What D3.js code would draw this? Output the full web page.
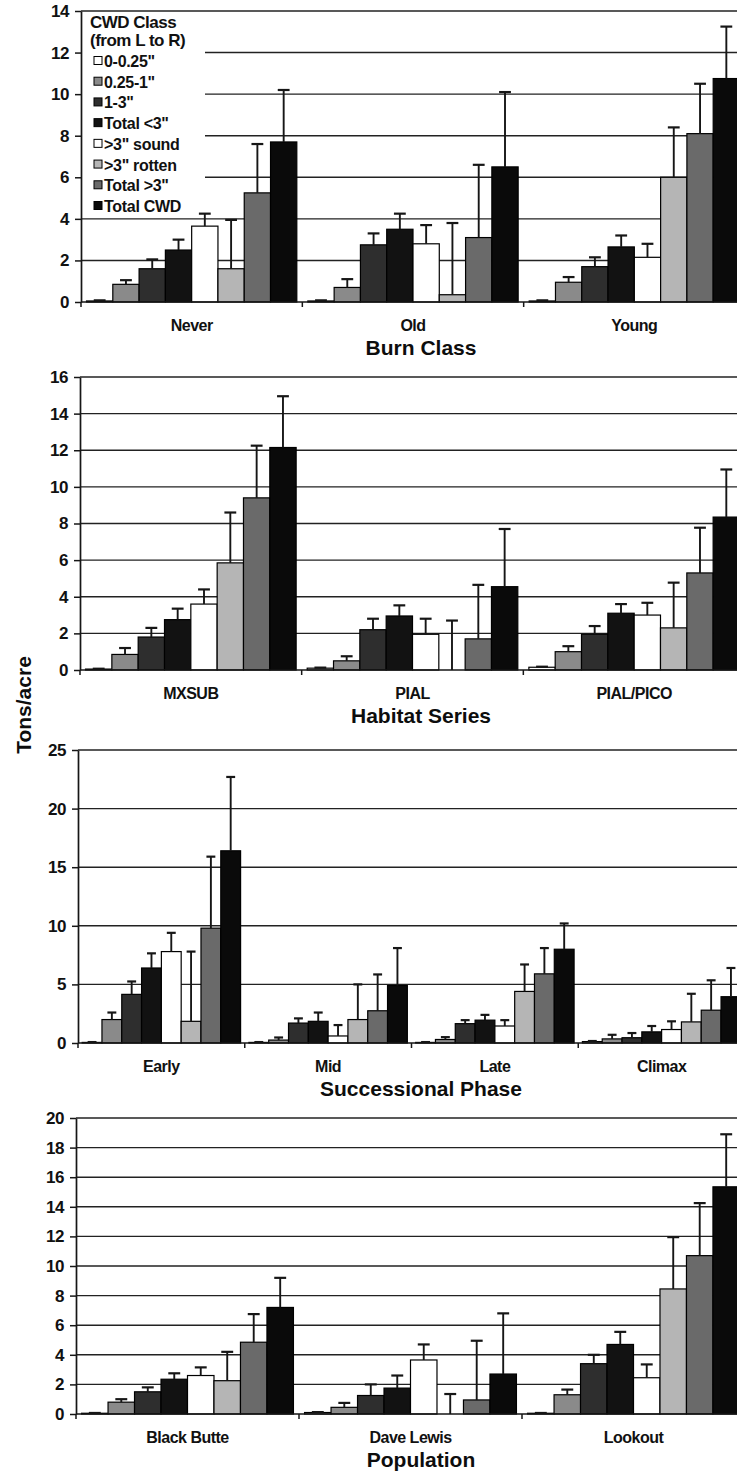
<!DOCTYPE html>
<html><head><meta charset="utf-8">
<script src="https://cdn.jsdelivr.net/npm/d3@7"></script>
<style>
body{margin:0;background:#fff}
svg{display:block;font-family:Arial,"Liberation Sans",sans-serif}
</style>
</head><body>
<svg id="c" width="737" height="1474"></svg>
<script>
// CWD size classes (legend order, left to right in each group)
const classes = ["0-0.25\"", "0.25-1\"", "1-3\"", "Total <3\"", ">3\" sound", ">3\" rotten", "Total >3\"", "Total CWD"];
const classColors = ["#ffffff", "#8a8a8a", "#2e2e2e", "#121212", "#ffffff", "#b5b5b5", "#6a6a6a", "#0a0a0a"];

// Burn Class
const burnCats = ["Never", "Old", "Young"];
const burnMean = [
  [0.05, 0.85, 1.6, 2.5, 3.65, 1.6, 5.25, 7.7],
  [0.05, 0.7, 2.75, 3.5, 2.8, 0.35, 3.1, 6.5],
  [0.05, 0.95, 1.7, 2.65, 2.15, 6.0, 8.1, 10.75]
];
const burnErr = [
  [0.03, 0.2, 0.45, 0.5, 0.6, 2.35, 2.35, 2.5],
  [0.03, 0.4, 0.55, 0.75, 0.9, 3.45, 3.5, 3.6],
  [0.03, 0.25, 0.45, 0.55, 0.65, 2.4, 2.4, 2.5]
];
const burnTicks = [0, 2, 4, 6, 8, 10, 12, 14];

// Habitat Series
const habCats = ["MXSUB", "PIAL", "PIAL/PICO"];
const habMean = [
  [0.05, 0.85, 1.8, 2.75, 3.6, 5.85, 9.4, 12.15],
  [0.1, 0.5, 2.2, 2.95, 1.95, 0, 1.7, 4.55],
  [0.15, 1.0, 1.95, 3.1, 3.0, 2.3, 5.3, 8.35]
];
const habErr = [
  [0.02, 0.35, 0.5, 0.6, 0.8, 2.75, 2.85, 2.8],
  [0.03, 0.25, 0.6, 0.58, 0.85, 2.7, 2.95, 3.15],
  [0.03, 0.3, 0.45, 0.5, 0.67, 2.47, 2.47, 2.6]
];
const habTicks = [0, 2, 4, 6, 8, 10, 12, 14, 16];

// Successional Phase
const sucCats = ["Early", "Mid", "Late", "Climax"];
const sucMean = [
  [0.05, 2.0, 4.15, 6.4, 7.8, 1.85, 9.8, 16.4],
  [0.05, 0.25, 1.7, 1.85, 0.6, 2.0, 2.75, 4.9],
  [0.05, 0.3, 1.65, 1.95, 1.45, 4.4, 5.9, 8.0],
  [0.12, 0.35, 0.45, 0.95, 1.15, 1.8, 2.8, 3.95]
];
const sucErr = [
  [0.03, 0.6, 1.1, 1.25, 1.6, 5.95, 6.1, 6.3],
  [0.03, 0.22, 0.4, 0.75, 0.93, 3.0, 3.1, 3.2],
  [0.03, 0.2, 0.3, 0.45, 0.5, 2.3, 2.2, 2.2],
  [0.05, 0.35, 0.4, 0.5, 0.7, 2.4, 2.55, 2.45]
];
const sucTicks = [0, 5, 10, 15, 20, 25];

// Population
const popCats = ["Black Butte", "Dave Lewis", "Lookout"];
const popMean = [
  [0.05, 0.8, 1.5, 2.35, 2.6, 2.25, 4.85, 7.2],
  [0.1, 0.45, 1.25, 1.75, 3.65, 0, 0.95, 2.7],
  [0.05, 1.3, 3.4, 4.7, 2.45, 8.45, 10.7, 15.35]
];
const popErr = [
  [0.02, 0.2, 0.3, 0.4, 0.55, 1.95, 1.9, 2.0],
  [0.03, 0.3, 0.75, 0.85, 1.05, 1.35, 4.0, 4.1],
  [0.02, 0.35, 0.6, 0.85, 0.9, 3.5, 3.55, 3.55]
];
const popTicks = [0, 2, 4, 6, 8, 10, 12, 14, 16, 18, 20];

const panels = [
  {cats: burnCats, mean: burnMean, err: burnErr, ticks: burnTicks, title: "Burn Class", left: 81, top: 11, bottom: 302, legend: true},
  {cats: habCats, mean: habMean, err: habErr, ticks: habTicks, title: "Habitat Series", left: 80, top: 377, bottom: 670},
  {cats: sucCats, mean: sucMean, err: sucErr, ticks: sucTicks, title: "Successional Phase", left: 78, top: 750, bottom: 1043},
  {cats: popCats, mean: popMean, err: popErr, ticks: popTicks, title: "Population", left: 76, top: 1118, bottom: 1414}
];

const svg = d3.select("#c");
const RIGHT = 745;
const INK = "#161616";

panels.forEach(p => {
  const g = svg.append("g");
  const x0 = d3.scaleBand().domain(p.cats).range([p.left, RIGHT]).paddingInner(0).paddingOuter(0);
  const x1 = d3.scaleBand().domain(d3.range(classes.length)).range([0, x0.bandwidth()]).paddingInner(0).paddingOuter(0.21);
  const maxV = d3.max(p.ticks);
  const y = d3.scaleLinear().domain([0, maxV]).range([p.bottom, p.top]);

  // gridlines
  g.selectAll("line.grid").data(p.ticks.filter(t => t > 0)).join("line")
    .attr("x1", p.left).attr("x2", RIGHT)
    .attr("y1", d => y(d)).attr("y2", d => y(d))
    .attr("stroke", "#222").attr("stroke-width", 1.4);

  // legend background (covers gridlines)
  if (p.legend) {
    g.append("rect").attr("x", p.left + 1).attr("y", y(maxV) + 2)
      .attr("width", 123).attr("height", 201).attr("fill", "#fff");
  }

  // bars
  p.cats.forEach((c, ci) => {
    const bars = g.append("g");
    classes.forEach((cl, k) => {
      const v = p.mean[ci][k];
      const e = p.err[ci][k];
      const bx = x0(c) + x1(k);
      const bw = x1.bandwidth();
      bars.append("rect")
        .attr("x", bx).attr("y", y(v))
        .attr("width", bw).attr("height", Math.max(0, y(0) - y(v)))
        .attr("fill", classColors[k]).attr("stroke", "#000").attr("stroke-width", 1.2);
      const cx = bx + bw / 2;
      const cw = bw * 0.45;
      bars.append("line").attr("x1", cx).attr("x2", cx).attr("y1", y(v)).attr("y2", y(v + e))
        .attr("stroke", INK).attr("stroke-width", 1.9);
      bars.append("line").attr("x1", cx - cw / 2).attr("x2", cx + cw / 2).attr("y1", y(v + e)).attr("y2", y(v + e))
        .attr("stroke", INK).attr("stroke-width", 2.2);
    });
  });

  // x axis line and group tick marks
  g.append("line").attr("x1", p.left).attr("x2", RIGHT).attr("y1", y(0)).attr("y2", y(0))
    .attr("stroke", INK).attr("stroke-width", 1.7);
  g.selectAll("line.xt").data(p.cats).join("line")
    .attr("x1", d => x0(d)).attr("x2", d => x0(d))
    .attr("y1", y(0)).attr("y2", y(0) + 5)
    .attr("stroke", INK).attr("stroke-width", 1.5);

  // y axis
  const ax = g.append("g").attr("transform", `translate(${p.left},0)`)
    .call(d3.axisLeft(y).tickValues(p.ticks).tickSize(6).tickSizeOuter(0).tickPadding(6).tickFormat(d3.format("d")));
  ax.select(".domain").attr("stroke", INK).attr("stroke-width", 1.7);
  ax.selectAll(".tick line").attr("stroke", INK).attr("stroke-width", 1.5);
  ax.selectAll(".tick text").attr("fill", "#111").style("font-size", "17px").style("font-weight", "bold")
    .style("letter-spacing", "-0.5px").style("font-family", "Arial, 'Liberation Sans', sans-serif");

  // category labels
  g.selectAll("text.cat").data(p.cats).join("text")
    .attr("x", d => x0(d) + x0.bandwidth() / 2).attr("y", y(0) + 29)
    .attr("text-anchor", "middle").attr("fill", "#111")
    .style("font-size", "16px").style("font-weight", "bold").style("letter-spacing", "-0.5px")
    .text(d => d);

  // panel title
  g.append("text").attr("x", 421).attr("y", y(0) + 53)
    .attr("text-anchor", "middle").attr("fill", "#0d0d0d")
    .style("font-size", "21px").style("font-weight", "bold")
    .text(p.title);

  // legend
  if (p.legend) {
    const lg = g.append("g");
    const lx = p.left + 11;
    lg.append("text").attr("x", lx - 2).attr("y", 28).attr("fill", "#111")
      .style("font-size", "17px").style("font-weight", "bold").style("letter-spacing", "-0.5px").text("CWD Class");
    lg.append("text").attr("x", lx - 2).attr("y", 46).attr("fill", "#111")
      .style("font-size", "17px").style("font-weight", "bold").style("letter-spacing", "-0.5px").text("(from L to R)");
    const ly = d3.scaleLinear().domain([0, classes.length - 1]).range([61, 206]);
    classes.forEach((cl, k) => {
      lg.append("rect").attr("x", lx + 2).attr("y", ly(k) - 4.5).attr("width", 8).attr("height", 8)
        .attr("fill", classColors[k]).attr("stroke", "#000").attr("stroke-width", 1);
      lg.append("text").attr("x", lx + 12).attr("y", ly(k) + 6).attr("fill", "#111")
        .style("font-size", "16px").style("letter-spacing", "-0.3px").style("font-weight", "bold").text(cl);
    });
  }
});

// shared y-axis title
svg.append("text").attr("transform", "translate(31,705) rotate(-90)")
  .attr("text-anchor", "middle").attr("fill", "#0d0d0d")
  .style("font-size", "21px").style("font-weight", "bold").text("Tons/acre");
</script>
</body></html>
